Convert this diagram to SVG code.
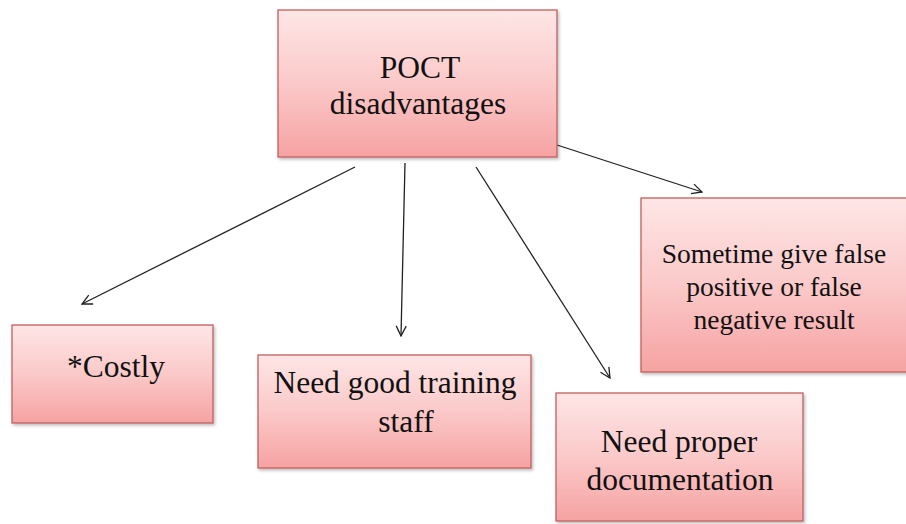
<svg xmlns="http://www.w3.org/2000/svg" width="906" height="524" viewBox="0 0 906 524">
<style>
.box{fill:url(#g);stroke:#c0605e;stroke-width:1.3}
.t{font-family:"Liberation Serif","Times New Roman",serif;font-size:31.5px;fill:#111;text-anchor:middle}
.sm{font-size:27.5px}
.c{fill:none;stroke:#222;stroke-width:1.3;marker-end:url(#a)}
</style>
<defs>
<linearGradient id="g" x1="0" y1="0" x2="0" y2="1">
<stop offset="0" stop-color="#fee6e6"/>
<stop offset="0.5" stop-color="#fbc9c9"/>
<stop offset="1" stop-color="#f6a2a2"/>
</linearGradient>
<filter id="s" x="-5%" y="-5%" width="115%" height="115%">
<feDropShadow dx="1.5" dy="2" stdDeviation="1.5" flood-color="#000" flood-opacity="0.25"/>
</filter>
<marker id="a" viewBox="0 0 12 12" refX="11" refY="6" markerWidth="12" markerHeight="12" markerUnits="userSpaceOnUse" orient="auto">
<path d="M1,1 L11,6 L1,11" fill="none" stroke="#222" stroke-width="1.3"/>
</marker>
</defs>
<rect width="906" height="524" fill="#fff"/>
<g id="connectors">
<line class="c" x1="355" y1="167" x2="82" y2="304"/>
<line class="c" x1="405" y1="163" x2="401" y2="336"/>
<line class="c" x1="476" y1="167" x2="610" y2="378"/>
<line class="c" x1="557" y1="145" x2="702" y2="192"/>
</g>
<g id="root">
<rect class="box" filter="url(#s)" x="278" y="10" width="279" height="147"/>
<text class="t" x="420" y="78">POCT</text>
<text class="t" x="418" y="114">disadvantages</text>
</g>
<g id="costly">
<rect class="box" filter="url(#s)" x="12" y="325" width="201" height="98"/>
<text class="t" x="116" y="377">*Costly</text>
</g>
<g id="training">
<rect class="box" filter="url(#s)" x="258" y="355" width="273" height="113"/>
<text class="t" x="395" y="393">Need good training</text>
<text class="t" x="406" y="432">staff</text>
</g>
<g id="documentation">
<rect class="box" filter="url(#s)" x="556" y="393" width="247" height="128"/>
<text class="t" x="679" y="452">Need proper</text>
<text class="t" x="680" y="490">documentation</text>
</g>
<g id="false-result">
<rect class="box" filter="url(#s)" x="641" y="198" width="266" height="174"/>
<text class="t sm" x="774" y="263">Sometime give false</text>
<text class="t sm" x="774" y="296">positive or false</text>
<text class="t sm" x="774" y="329">negative result</text>
</g>
</svg>
